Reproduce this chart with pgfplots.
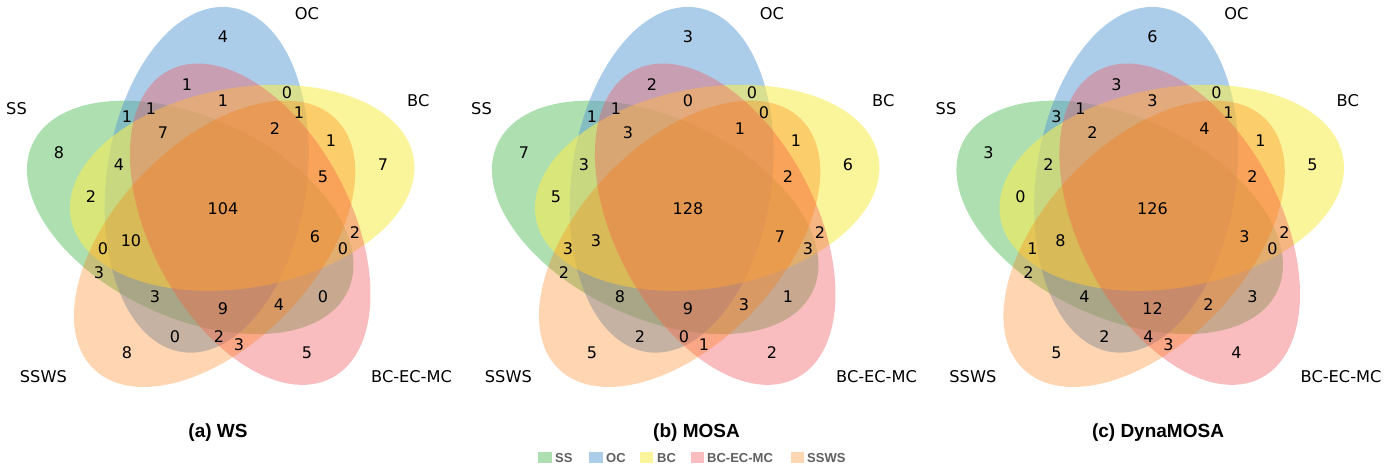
\documentclass[border=0pt]{standalone}
\usepackage{pgfplots}
\usepackage{pgfplotstable}
\pgfplotsset{compat=1.18}
\usepackage{fontspec}
\setmainfont{DejaVu Sans}
\newfontfamily\arialfont{Liberation Sans}

\definecolor{cSS}{RGB}{92,192,98}
\definecolor{cOC}{RGB}{90,155,212}
\definecolor{cBC}{RGB}{246,236,86}
\definecolor{cBEM}{RGB}{241,90,96}
\definecolor{cSSWS}{RGB}{255,117,0}
\definecolor{legtext}{RGB}{95,95,95}

% region label positions and counts: a = WS, b = MOSA, c = DynaMOSA
\pgfplotstableread{
x    y    a   b   c
0.51 0.90 4   3   6
0.42 0.78 1   2   3
0.51 0.74 1   0   3
0.67 0.76 0   0   0
0.70 0.71 1   0   1
0.64 0.67 2   1   4
0.78 0.64 1   1   1
0.76 0.55 5   2   2
0.91 0.58 7   6   5
0.51 0.47 104 128 126
0.74 0.40 6   7   3
0.84 0.41 2   2   2
0.81 0.37 0   3   0
0.76 0.25 0   1   3
0.65 0.23 4   3   2
0.51 0.22 9   9   12
0.72 0.11 5   2   4
0.55 0.13 3   1   3
0.50 0.15 2   0   4
0.39 0.15 0   2   2
0.27 0.11 8   5   5
0.34 0.25 3   8   4
0.20 0.31 3   2   2
0.21 0.37 0   3   1
0.28 0.39 10  3   8
0.18 0.50 2   5   0
0.25 0.58 4   3   2
0.10 0.61 8   7   3
0.27 0.70 1   1   3
0.33 0.72 1   1   1
0.36 0.66 7   3   2
}\regions

\pgfplotsset{vennax/.style={
  at={(#1,0pt)}, anchor=south west,
  width=465pt, height=470pt, scale only axis,
  xmin=-0.0475, xmax=1.115, ymin=-0.1825, ymax=0.9925,
  hide axis, clip=false}}

\newcommand{\vennbody}[1]{%
  \fill[cSS, fill opacity=0.5, rotate around={155:(axis cs:0.428,0.449)}]
    (axis cs:0.428,0.449) ellipse [x radius=174pt, y radius=100pt];
  \fill[cOC, fill opacity=0.5, rotate around={82:(axis cs:0.469,0.543)}]
    (axis cs:0.469,0.543) ellipse [x radius=174pt, y radius=100pt];
  \fill[cBC, fill opacity=0.6, rotate around={10:(axis cs:0.558,0.523)}]
    (axis cs:0.558,0.523) ellipse [x radius=174pt, y radius=100pt];
  \fill[cBEM, fill opacity=0.4, rotate around={118:(axis cs:0.578,0.432)}]
    (axis cs:0.578,0.432) ellipse [x radius=174pt, y radius=100pt];
  \fill[cSSWS, fill opacity=0.3, rotate around={46:(axis cs:0.489,0.383)}]
    (axis cs:0.489,0.383) ellipse [x radius=174pt, y radius=100pt];
  \addplot[draw=none, mark=none, nodes near coords, point meta=explicit symbolic,
    nodes near coords align={anchor=center},
    every node near coord/.append style={anchor=center, inner sep=0pt, font=\fontsize{16}{18}\selectfont}]
    table[x=x, y=y, meta=#1] {\regions};
  \begin{scope}[every node/.style={inner sep=0pt, font=\fontsize{16.2}{18}\selectfont}]
  \node[anchor=east] at (axis cs:0.02,0.72) {SS};
  \node[anchor=center] at (axis cs:0.72,0.958) {OC};
  \node[anchor=west] at (axis cs:0.97,0.74) {BC};
  \node[anchor=west] at (axis cs:0.88,0.05) {BC-EC-MC};
  \node[anchor=east] at (axis cs:0.12,0.05) {SSWS};
  \end{scope}
}

\begin{document}
\begin{tikzpicture}
\useasboundingbox (0pt,0pt) rectangle (1395pt,470pt);
\begin{axis}[vennax=0pt]
\vennbody{a}
\end{axis}
\begin{axis}[vennax=465pt]
\vennbody{b}
\end{axis}
\begin{axis}[vennax=929.5pt]
\vennbody{c}
\end{axis}
% sub-captions
\begin{scope}[every node/.style={inner sep=0pt, anchor=base, font=\arialfont\bfseries\fontsize{19}{22}\selectfont}]
\node at (218pt,32pt) {(a) WS};
\node at (696.5pt,32pt) {(b) MOSA};
\node at (1158pt,32pt) {(c) DynaMOSA};
\end{scope}
% legend
\begin{scope}[every node/.style={inner sep=0pt, anchor=base west, text=legtext, font=\arialfont\bfseries\fontsize{13}{15}\selectfont}]
\fill[cSS!50!white] (538pt,7pt) rectangle (552pt,18pt);
\node at (555pt,7.7pt) {SS};
\fill[cOC!50!white] (589pt,7pt) rectangle (603pt,18pt);
\node at (606pt,7.7pt) {OC};
\fill[cBC!60!white] (640pt,7pt) rectangle (653pt,18pt);
\node at (657pt,7.7pt) {BC};
\fill[cBEM!40!white] (691pt,7pt) rectangle (704pt,18pt);
\node at (707pt,7.7pt) {BC-EC-MC};
\fill[cSSWS!30!white] (791pt,7pt) rectangle (804pt,18pt);
\node at (807pt,7.7pt) {SSWS};
\end{scope}
\end{tikzpicture}
\end{document}
